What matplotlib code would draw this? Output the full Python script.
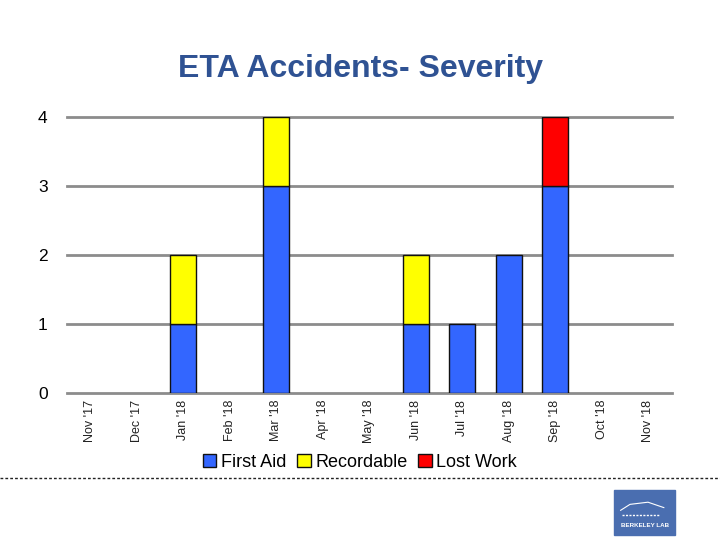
import matplotlib
matplotlib.use("Agg")
import matplotlib.pyplot as plt
import matplotlib.patches as mpatches
from matplotlib.lines import Line2D

plt.rcParams['font.family'] = ['Liberation Sans', 'DejaVu Sans']

# data
months = ["Nov '17", "Dec '17", "Jan '18", "Feb '18", "Mar '18", "Apr '18", "May '18",
          "Jun '18", "Jul '18", "Aug '18", "Sep '18", "Oct '18", "Nov '18"]
first_aid = [0, 0, 1, 0, 3, 0, 0, 1, 1, 2, 3, 0, 0]
recordable = [0, 0, 1, 0, 1, 0, 0, 1, 0, 0, 0, 0, 0]
lost_work = [0, 0, 0, 0, 0, 0, 0, 0, 0, 0, 1, 0, 0]
yticks = [0, 1, 2, 3, 4]

c_blue = '#3366FF'
c_yellow = '#FFFF00'
c_red = '#FF0000'

fig = plt.figure(figsize=(7.2, 5.4), dpi=100)
ax = fig.add_axes([0.093, 0.2722, 0.84, 0.5111])

x = list(range(len(months)))
bot2 = [a + b for a, b in zip(first_aid, recordable)]
w = 0.56


def stack(vals, bottom, color):
    # skip empty segments so no stray outline shows at zero
    idx = [i for i, v in enumerate(vals) if v > 0]
    ax.bar([x[i] for i in idx], [vals[i] for i in idx], w,
           bottom=[bottom[i] for i in idx], color=color,
           edgecolor='#111111', linewidth=1, zorder=3)


stack(first_aid, [0] * len(x), c_blue)
stack(recordable, first_aid, c_yellow)
stack(lost_work, bot2, c_red)

for t in yticks:
    ax.axhline(t, color='#8c8c8c', linewidth=2, zorder=1, clip_on=False)

ax.set_xlim(-0.5, len(months) - 0.5)
ax.set_ylim(0, 4)
ax.set_yticks(yticks)
ax.set_yticklabels([str(t) for t in yticks], fontsize=12.5)
ax.set_xticks(x)
ax.set_xticklabels(months, rotation=90, fontsize=9, color='#222222')
ax.tick_params(axis='both', length=0)
ax.tick_params(axis='y', pad=14)
ax.tick_params(axis='x', pad=5)
for s in ax.spines.values():
    s.set_visible(False)

handles = [mpatches.Patch(facecolor=c_blue, edgecolor='#111111', label='First Aid'),
           mpatches.Patch(facecolor=c_yellow, edgecolor='#111111', label='Recordable'),
           mpatches.Patch(facecolor=c_red, edgecolor='#111111', label='Lost Work')]
fig.legend(handles=handles, loc='center', bbox_to_anchor=(0.5, 0.144), ncol=3,
           frameon=False, fontsize=13, handlelength=0.75, handleheight=0.75,
           handletextpad=0.25, columnspacing=0.6)

fig.text(0.5, 0.873, 'ETA Accidents- Severity', ha='center', va='center',
         fontsize=23, fontweight='bold', color='#2F5293')

# dotted separator
fig.add_artist(Line2D([0, 1], [0.115, 0.115], color='#222222', linewidth=1,
                      linestyle=(0, (2, 1.5)), transform=fig.transFigure))

# logo block
fig.add_artist(mpatches.Rectangle((0.853, 0.009), 0.085, 0.083, color='#4A6EB0',
                                  transform=fig.transFigure))
fig.text(0.8955, 0.027, 'BERKELEY LAB', ha='center', va='center', fontsize=4.5,
         fontweight='bold', color='white')
fig.add_artist(Line2D([0.862, 0.875, 0.9, 0.922], [0.055, 0.066, 0.07, 0.06],
                      color='white', linewidth=0.8, transform=fig.transFigure))
fig.add_artist(Line2D([0.864, 0.915], [0.046, 0.046], color='white', linewidth=1,
                      linestyle=(0, (1.5, 1)), transform=fig.transFigure))

fig.savefig('out.png', dpi=100)
